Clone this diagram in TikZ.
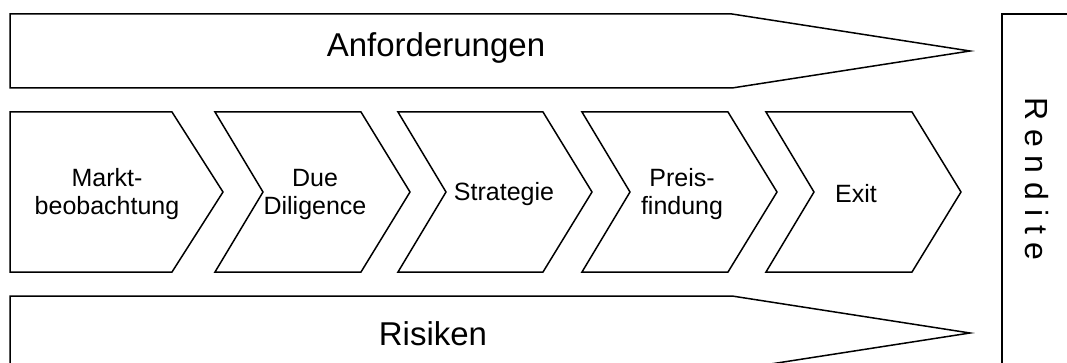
\documentclass[tikz,border=0pt]{standalone}
\usepackage{fontspec}
\setmainfont{Liberation Sans}
\tikzset{
    outline/.style={draw,line width=1.5pt,line join=miter},
    thinline/.style={draw,line width=1.2pt},
    steplabel/.style={align=center,font=\fontsize{25}{28}\selectfont},
    biglabel/.style={font=\fontsize{33}{38}\selectfont},
    sidelabel/.style={rotate=-90,font=\fontsize{32}{36}\selectfont},
}

\begin{document}
\begin{tikzpicture}[x=1pt,y=-1pt]
    % page size, everything beyond is cut
    \clip (0,0) rectangle (1067,363);
    \fill[white] (0,0) rectangle (1067,363);
    % the two long arrows
    \draw[outline] (10,14) -- (732,14) -- (970,51) -- (732,88) -- (10,88) -- cycle;
    \draw[outline] (10,296) -- (732,296) -- (970,333) -- (732,370) -- (10,370) -- cycle;
    \node[biglabel] (anf) at (436,48) {Anforderungen};
    \node[biglabel] (ris) at (433,334) {Risiken};
    % first step has no notch
    \draw[outline] (10,112) -- (172,112) -- (223,192) -- (172,272) -- (10,272) -- cycle;
    % the other steps
    \foreach \l/\r in {215/361, 398/543, 582/728, 766/912}{
        \draw[outline] (\l,112) -- (\r,112) -- (\r+49,192) -- (\r,272) -- (\l,272) -- (\l+48,192) -- cycle;
    }
    % create the step texts
    \node[steplabel] (s1) at (107,194) {Markt-\\beobachtung};
    \node[steplabel] (s2) at (315,194) {Due\\Diligence};
    \node[steplabel] (s3) at (504,194) {Strategie};
    \node[steplabel] (s4) at (682,194) {Preis-\\findung};
    \node[steplabel] (s5) at (856,194) {Exit};
    % box on the right
    \draw[thinline] (1002,400) -- (1002,14) -- (1100,14);
    \node[sidelabel] (ren) at (1037,179) {R e n d i t e};
\end{tikzpicture}
\end{document}
